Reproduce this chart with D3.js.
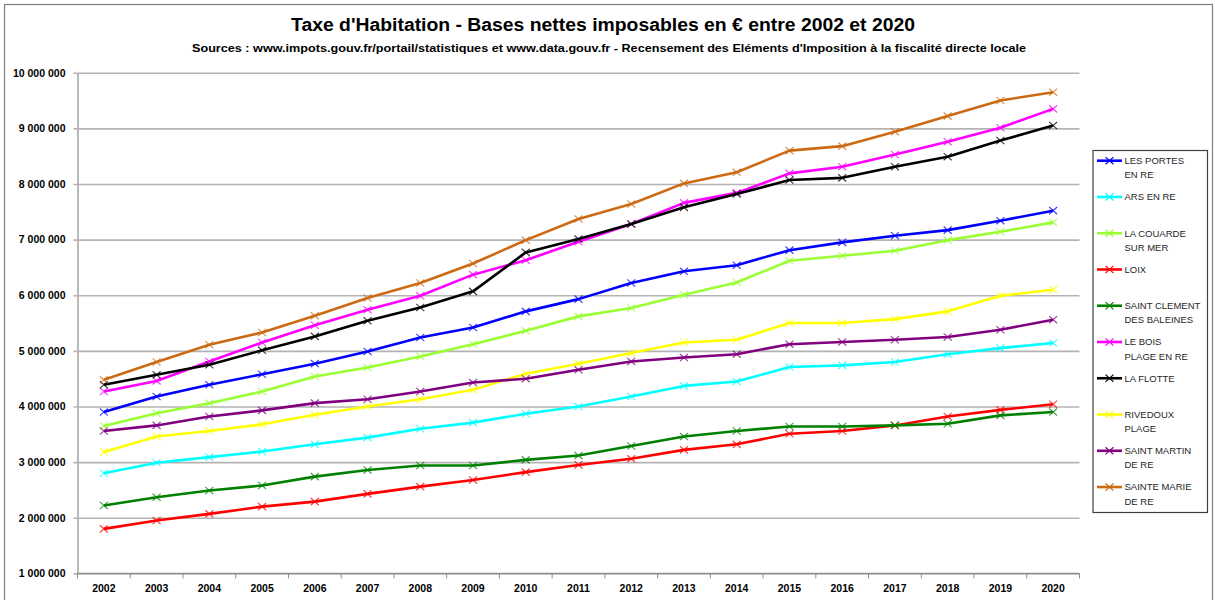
<!DOCTYPE html>
<html>
<head>
<meta charset="utf-8">
<script src="https://cdnjs.cloudflare.com/ajax/libs/d3/7.8.5/d3.min.js"></script>
<style>
    html, body { margin: 0; padding: 0; background: #fff; }
    svg { display: block; }
</style>
</head>
<body>
<svg id="chart" width="1215" height="600"></svg>
<script>
// ---- data (euros) ----
var years = [2002, 2003, 2004, 2005, 2006, 2007, 2008, 2009, 2010, 2011,
             2012, 2013, 2014, 2015, 2016, 2017, 2018, 2019, 2020];

var lesPortesEnRe     = [3900000, 4180000, 4390000, 4580000, 4770000, 4990000, 5240000, 5420000, 5710000, 5930000, 6220000, 6430000, 6540000, 6810000, 6950000, 7070000, 7170000, 7340000, 7520000];
var arsEnRe           = [2800000, 2990000, 3090000, 3190000, 3320000, 3440000, 3600000, 3710000, 3870000, 4000000, 4180000, 4370000, 4450000, 4710000, 4740000, 4800000, 4940000, 5050000, 5140000];
var laCouardeSurMer   = [3650000, 3880000, 4060000, 4270000, 4540000, 4700000, 4900000, 5120000, 5360000, 5620000, 5770000, 6010000, 6230000, 6620000, 6710000, 6800000, 6990000, 7140000, 7310000];
var loix              = [1800000, 1950000, 2070000, 2200000, 2290000, 2430000, 2560000, 2680000, 2820000, 2950000, 3060000, 3220000, 3320000, 3510000, 3560000, 3660000, 3820000, 3940000, 4040000];
var saintClement      = [2220000, 2370000, 2490000, 2580000, 2740000, 2860000, 2940000, 2940000, 3040000, 3120000, 3290000, 3460000, 3560000, 3640000, 3640000, 3660000, 3690000, 3840000, 3900000];
var leBoisPlage       = [4270000, 4460000, 4810000, 5150000, 5460000, 5740000, 5990000, 6370000, 6630000, 6960000, 7280000, 7660000, 7840000, 8190000, 8310000, 8530000, 8760000, 9010000, 9350000];
var laFlotte          = [4390000, 4570000, 4750000, 5010000, 5260000, 5540000, 5780000, 6070000, 6770000, 7010000, 7280000, 7580000, 7820000, 8070000, 8110000, 8310000, 8490000, 8780000, 9050000];
var rivedouxPlage     = [3180000, 3460000, 3560000, 3680000, 3850000, 4000000, 4130000, 4300000, 4590000, 4770000, 4960000, 5150000, 5200000, 5500000, 5500000, 5570000, 5710000, 5990000, 6100000];
var saintMartinDeRe   = [3560000, 3660000, 3820000, 3930000, 4060000, 4130000, 4270000, 4430000, 4500000, 4660000, 4810000, 4880000, 4940000, 5120000, 5160000, 5200000, 5250000, 5380000, 5560000];
var sainteMarieDeRe   = [4480000, 4800000, 5110000, 5330000, 5630000, 5950000, 6220000, 6570000, 6990000, 7370000, 7640000, 8010000, 8210000, 8600000, 8680000, 8940000, 9220000, 9500000, 9650000];

var seriesValues = [lesPortesEnRe, arsEnRe, laCouardeSurMer, loix, saintClement,
                    leBoisPlage, laFlotte, rivedouxPlage, saintMartinDeRe, sainteMarieDeRe];

// legend labels, wrapped the way the original legend wraps them
var seriesLabels = [
    ["LES PORTES", "EN RE"],
    ["ARS EN RE"],
    ["LA COUARDE", "SUR MER"],
    ["LOIX"],
    ["SAINT CLEMENT", "DES BALEINES"],
    ["LE BOIS", "PLAGE EN RE"],
    ["LA FLOTTE"],
    ["RIVEDOUX", "PLAGE"],
    ["SAINT MARTIN", "DE RE"],
    ["SAINTE MARIE", "DE RE"]
];

var yTickValues = [1000000, 2000000, 3000000, 4000000, 5000000,
                   6000000, 7000000, 8000000, 9000000, 10000000];

var titleText    = "Taxe d'Habitation - Bases nettes imposables en € entre 2002 et 2020";
var subtitleText = "Sources : www.impots.gouv.fr/portail/statistiques et www.data.gouv.fr - Recensement des Eléments d'Imposition à la fiscalité directe locale";

// ---- styles ----
var seriesColors = ["#0000ff", "#00ffff", "#99ff33", "#ff0000", "#008000",
                    "#ff00ff", "#000000", "#ffff00", "#800080", "#cc6a14"];

var font = "'Liberation Sans', Arial, sans-serif";

var svg = d3.select("#chart");

// outer chart border (bottom runs off the picture)
svg.append("rect")
    .attr("x", 4.5).attr("y", 4.5)
    .attr("width", 1208).attr("height", 620)
    .attr("fill", "#fff")
    .attr("stroke", "#7f7f7f")
    .attr("stroke-width", 1.2);

// titles, stretched to the widths measured on the reference
svg.append("text")
    .attr("x", 603).attr("y", 31)
    .attr("text-anchor", "middle")
    .attr("font-family", font).attr("font-weight", "bold").attr("font-size", 17.5)
    .attr("textLength", 624).attr("lengthAdjust", "spacingAndGlyphs")
    .attr("fill", "#000")
    .text(titleText);

svg.append("text")
    .attr("x", 609).attr("y", 52)
    .attr("text-anchor", "middle")
    .attr("font-family", font).attr("font-weight", "bold").attr("font-size", 11)
    .attr("textLength", 834).attr("lengthAdjust", "spacingAndGlyphs")
    .attr("fill", "#000")
    .text(subtitleText);

// ---- scales ----
var plot = { left: 77.5, right: 1079.5, top: 72.7, bottom: 573.4 };

var x = d3.scaleBand()
    .domain(years)
    .range([plot.left, plot.right]);

var y = d3.scaleLinear()
    .domain([1000000, 10000000])
    .range([plot.bottom, plot.top]);

var fr = d3.formatLocale({ decimal: ",", thousands: " ", grouping: [3], currency: ["", " €"] });
var fmt = fr.format(",d");

// gridlines + y axis (ticks stick out to the left like the original)
var yAxis = d3.axisLeft(y)
    .tickValues(yTickValues)
    .tickFormat(fmt)
    .tickSizeInner(-(plot.right - plot.left))
    .tickSizeOuter(0)
    .tickPadding(12);

var gy = svg.append("g")
    .attr("transform", "translate(" + plot.left + ",0)")
    .call(yAxis);

gy.select(".domain").attr("stroke", "#8c8c8c").attr("stroke-width", 1.2);
gy.selectAll(".tick line")
    .attr("x1", -4)
    .attr("stroke", "#b3b3b3")
    .attr("stroke-width", 1.6);
gy.selectAll(".tick text")
    .attr("font-family", font).attr("font-weight", "bold").attr("font-size", 10.5)
    .attr("fill", "#000");

// x axis: ticks at category boundaries, labels at band centres
var gx = svg.append("g")
    .attr("transform", "translate(0," + plot.bottom + ")");

gx.append("line")
    .attr("x1", plot.left).attr("x2", plot.right)
    .attr("stroke", "#8c8c8c").attr("stroke-width", 1.2);

var boundaries = years.map(function(d) { return x(d); }).concat([plot.right]);
gx.selectAll("line.tickmark")
    .data(boundaries)
    .enter().append("line")
    .attr("class", "tickmark")
    .attr("x1", function(d) { return d; }).attr("x2", function(d) { return d; })
    .attr("y1", 0).attr("y2", 5)
    .attr("stroke", "#8c8c8c").attr("stroke-width", 1);

gx.selectAll("text")
    .data(years)
    .enter().append("text")
    .attr("x", function(d) { return x(d) + x.bandwidth() / 2; })
    .attr("y", 19)
    .attr("text-anchor", "middle")
    .attr("font-family", font).attr("font-weight", "bold").attr("font-size", 10.5)
    .attr("fill", "#000")
    .text(function(d) { return d; });

// ---- series ----
var cx = function(i) { return x(years[i]) + x.bandwidth() / 2; };
var markerPath = "M-4,-3.6L4,3.6M-4,3.6L4,-3.6";

var line = d3.line()
    .x(function(d, i) { return cx(i); })
    .y(function(d) { return y(d); });

seriesValues.forEach(function(values, s) {
    var g = svg.append("g").attr("class", "series");
    g.append("path")
        .datum(values)
        .attr("d", line)
        .attr("fill", "none")
        .attr("stroke", seriesColors[s])
        .attr("stroke-width", 2.6)
        .attr("stroke-linejoin", "round");
    g.selectAll("path.marker")
        .data(values)
        .enter().append("path")
        .attr("class", "marker")
        .attr("d", markerPath)
        .attr("transform", function(d, i) { return "translate(" + cx(i) + "," + y(d) + ")"; })
        .attr("fill", "none")
        .attr("stroke", seriesColors[s])
        .attr("stroke-opacity", 0.75)
        .attr("stroke-width", 1.2);
});

// ---- legend ----
var legend = svg.append("g");
legend.append("rect")
    .attr("x", 1093).attr("y", 150.5)
    .attr("width", 114.5).attr("height", 362)
    .attr("fill", "#fff")
    .attr("stroke", "#404040")
    .attr("stroke-width", 1.2);

var items = legend.selectAll("g.item")
    .data(seriesLabels)
    .enter().append("g")
    .attr("class", "item")
    .attr("transform", function(d, i) { return "translate(0," + (160.7 + i * 36.26) + ")"; });

items.append("line")
    .attr("x1", 1097).attr("x2", 1122)
    .attr("stroke", function(d, i) { return seriesColors[i]; })
    .attr("stroke-width", 2.6);
items.append("path")
    .attr("d", markerPath)
    .attr("transform", "translate(1109.5,0)")
    .attr("fill", "none")
    .attr("stroke", function(d, i) { return seriesColors[i]; })
    .attr("stroke-width", 1.2);

items.each(function(lines) {
    d3.select(this).selectAll("text")
        .data(lines)
        .enter().append("text")
        .attr("x", 1124.5)
        .attr("y", function(d, k) { return 3.4 + k * 14.3; })
        .attr("font-family", font).attr("font-size", 9.5)
        .attr("fill", "#262626")
        .text(function(d) { return d; });
});
</script>
</body>
</html>
